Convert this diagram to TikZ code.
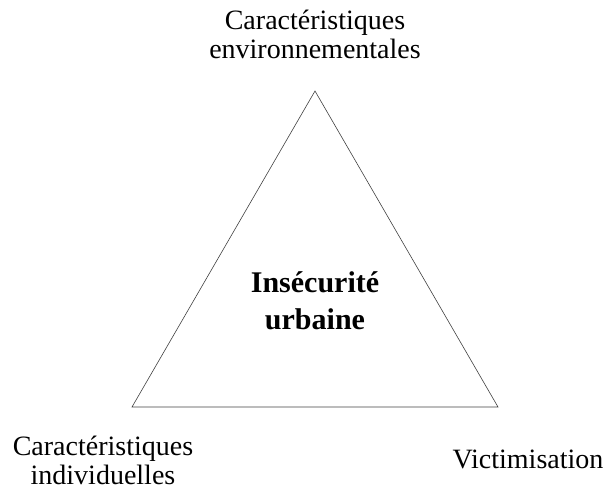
\documentclass[tikz,border=0pt]{standalone}
\usepackage{fontspec}
\setmainfont{Liberation Serif}

\begin{document}
\begin{tikzpicture}[x=1pt, y=-1pt,
  label/.style={align=center, font=\fontsize{28}{29}\selectfont, inner sep=0pt},
  centre/.style={align=center, font=\fontsize{30}{37}\selectfont\bfseries, inner sep=0pt}]

  \useasboundingbox (0,0) rectangle (604,489);

  % Corners of the triangle
  \coordinate (top) at (315,91);
  \coordinate (left) at (132,407);
  \coordinate (right) at (498,407);

  % Triangle
  \draw[black!75, line width=0.6pt] (top) -- (left) -- (right) -- cycle;

  % Centre text
  \node[centre] (insecurite) at (315,301) {Insécurité\\urbaine};

  % Labels at the corners
  \node[label] (environ) at (315,34) {Caractéristiques\\environnementales};
  \node[label] (individ) at (103,460) {Caractéristiques\\individuelles};
  \node[label] (victim) at (528,459) {Victimisation};

\end{tikzpicture}
\end{document}
